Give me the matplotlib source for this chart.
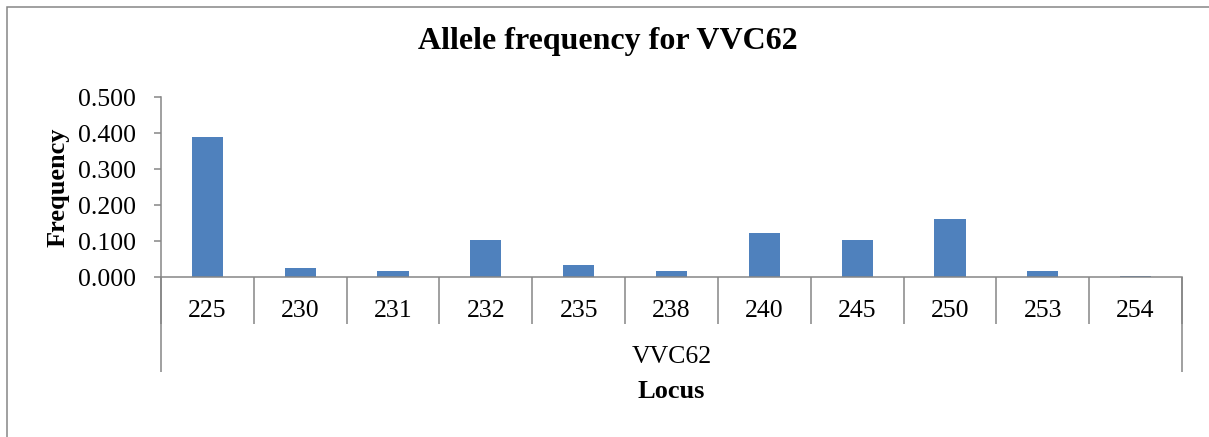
# %% import

import numpy as np
import matplotlib

matplotlib.use("Agg")
import matplotlib.pyplot as plt
from matplotlib.patches import Rectangle

# %% data

alleles = ["225", "230", "231", "232", "235", "238", "240", "245", "250", "253", "254"]
freq = [0.389, 0.025, 0.017, 0.102, 0.034, 0.017, 0.122, 0.102, 0.161, 0.017, 0.003]
group_name = "VVC62"
y_ticks = [0.0, 0.1, 0.2, 0.3, 0.4, 0.5]

# %% setting

plt.rcParams["font.family"] = ["Liberation Serif", "DejaVu Serif"]

W, H = 1209, 437
bar_color = "#4F81BD"
axis_color = "#868686"

fig = plt.figure(figsize=(W / 100, H / 100), dpi=100)

# axes box in pixel terms: x 161..1182, y 97..277
ax = fig.add_axes([161 / W, (H - 277) / H, (1182 - 161) / W, (277 - 97) / H])

x = np.arange(len(alleles))
ax.bar(x, freq, width=0.335, color=bar_color, zorder=2)

ax.set_xlim(-0.5, len(alleles) - 0.5)
ax.set_ylim(0, 0.5)

# y axis
ax.set_yticks(y_ticks, [f"{v:.3f}" for v in y_ticks])
ax.tick_params(axis="y", direction="out", length=5, width=1.1, color=axis_color,
               labelsize=18.5, pad=13)

# x axis: labels centred on bars, separators between categories
ax.set_xticks(x, alleles)
ax.tick_params(axis="x", length=0, labelsize=18.5, pad=16.5)
ax.set_xticks(np.arange(-0.5, len(alleles)), minor=True)
ax.tick_params(axis="x", which="minor", direction="out", length=47 * 0.72,
               width=1.1, color=axis_color)

for sp in ["top", "right"]:
    ax.spines[sp].set_visible(False)
for sp in ["left", "bottom"]:
    ax.spines[sp].set_color(axis_color)
    ax.spines[sp].set_linewidth(1.1)

# outer separators of the category group go further down
trans = ax.get_xaxis_transform()
ax.vlines([-0.5, len(alleles) - 0.5], 0, -95 / 180, transform=trans,
          color=axis_color, lw=1.1, clip_on=False)

# group label and axis titles
ax.text(0.5, -(357 - 277) / 180, group_name, transform=ax.transAxes,
        ha="center", va="center", fontsize=18.5)
ax.set_xlabel("Locus", fontsize=19, fontweight="bold")
ax.xaxis.set_label_coords(0.5, -(392 - 277) / 180)
ax.xaxis.label.set_va("center")

ax.set_ylabel("Frequency", fontsize=19, fontweight="bold")
ax.yaxis.set_label_coords((58 - 161) / 1021, 0.5)
ax.yaxis.label.set_va("center")

fig.text(608 / W, (H - 42) / H, "Allele frequency for VVC62", ha="center",
         va="center", fontsize=23, fontweight="bold")

# chart frame (right/bottom edges fall outside the picture)
fig.add_artist(Rectangle((7 / W, -0.1), 1.2, (H - 7) / H + 0.1, transform=fig.transFigure,
                         fill=False, edgecolor=axis_color, lw=1.1))

# save fig
fig.savefig("out.png", dpi=100)
